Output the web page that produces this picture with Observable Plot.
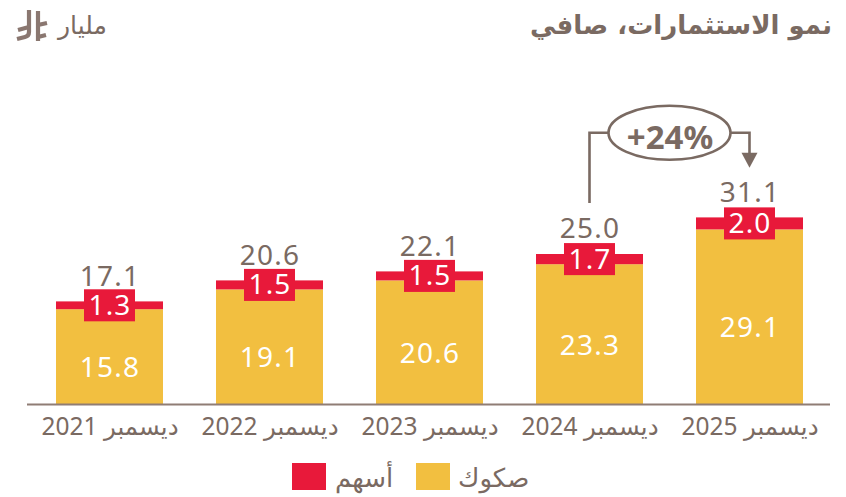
<!DOCTYPE html>
<html><head><meta charset="utf-8">
<script src="https://cdn.jsdelivr.net/npm/d3@7"></script>
<script src="https://cdn.jsdelivr.net/npm/@observablehq/plot@0.6"></script>
<style>
html,body{margin:0;padding:0;background:#fff;width:846px;height:497px;overflow:hidden}
#wrap{position:relative;width:846px;height:497px;font-family:"Noto Sans","DejaVu Sans",sans-serif;color:#7a6a62}
#chart{position:absolute;left:0;top:50px}
#title{position:absolute;right:14px;top:7px;font-size:26px;font-weight:700;direction:rtl;line-height:36px;font-family:"DejaVu Sans",sans-serif}
#unit{position:absolute;left:58px;top:8px;font-size:25px;line-height:36px;font-family:"DejaVu Sans",sans-serif}
#sym{position:absolute;left:0;top:0}
.lg{position:absolute;font-size:26px;line-height:30px;font-family:"DejaVu Sans",sans-serif;white-space:nowrap}
.sw{position:absolute;width:34px;height:27px;top:463px}
</style></head><body>
<div id="wrap">
<div id="title">نمو الاستثمارات، صافي</div>
<svg id="sym" width="60" height="50"><path fill="none" stroke="#8a7770" stroke-width="4.2" d="M29 10V32Q29 36 25 37L17 39M18 30L29 27M38 11V41M38 25L47 23M38 37L46 35"/></svg>
<div id="unit">مليار</div>
<div id="chart"></div>
<i class="sw" style="left:292px;background:#e8193a"></i><span class="lg" style="left:335px;top:463px">أسهم</span>
<i class="sw" style="left:416px;background:#f2bf40"></i><span class="lg" style="left:458px;top:463px">صكوك</span>
</div>
<script>
const periods=["ديسمبر 2021","ديسمبر 2022","ديسمبر 2023","ديسمبر 2024","ديسمبر 2025"];
const sukuk=[15.8,19.1,20.6,23.3,29.1];
const shares=[1.3,1.5,1.5,1.7,2.0];
const totals=[17.1,20.6,22.1,25.0,31.1];
const growth="+24%";
const gold="#f2bf40",red="#e8193a",brown="#7a6a62";
const rows=periods.map((p,i)=>({p,s:sukuk[i],e:shares[i],t:totals[i]}));
const growthMark=(index,{x,y})=>{
  const x1=x(periods[3])+x.bandwidth()/2,x2=x(periods[4])+x.bandwidth()/2;
  const cx=(x1+x2)/2,cy=y(45.2),rx=61,ry=27;
  const g=d3.create("svg:g").attr("fill","none").attr("stroke",brown).attr("stroke-width",2.6);
  g.append("path").attr("d",`M${x1},${y(33.5)}V${cy}H${cx-rx}`);
  g.append("path").attr("d",`M${cx+rx},${cy}H${x2}V${cy+21}`);
  g.append("ellipse").attr("cx",cx).attr("cy",cy).attr("rx",rx).attr("ry",ry);
  g.append("path").attr("fill",brown).attr("stroke","none").attr("d",`M${x2-8},${cy+20}H${x2+8}L${x2},${cy+35}Z`);
  return g.node();
};
const num={fontSize:28};
const svgPlot=Plot.plot({
  width:846,height:400,marginLeft:27,marginRight:16,marginTop:0,marginBottom:46,
  x:{type:"band",domain:periods,range:[29.5,829.5],paddingInner:.33,paddingOuter:.165,label:null},
  y:{domain:[0,59],range:[354,0],axis:null},
  style:{fontFamily:'"Noto Sans","DejaVu Sans",sans-serif',color:brown,background:"transparent"},
  marks:[
    Plot.axisX({fontSize:24.5,tickSize:0,tickPadding:13,label:null,color:brown}),
    Plot.barY(rows,{x:"p",y1:0,y2:"s",fill:gold}),
    Plot.barY(rows,{x:"p",y1:"s",y2:"t",fill:red}),
    Plot.ruleY([0],{stroke:"#8f7d75",strokeWidth:2}),
    Plot.barY(rows,{x:"p",y1:d=>d.s+d.e/2-2.67,y2:d=>d.s+d.e/2+2.67,fill:red,insetLeft:28,insetRight:28}),
    Plot.text(rows,{x:"p",y:d=>d.s/2,text:d=>d.s.toFixed(1),dy:11,fill:"#fff",...num}),
    Plot.text(rows,{x:"p",y:d=>d.s+d.e/2,text:d=>d.e.toFixed(1),dy:0,fill:"#fff",...num}),
    Plot.text(rows,{x:"p",y:"t",text:d=>d.t.toFixed(1),dy:-25,fill:brown,...num}),
    growthMark,
    Plot.text([growth],{x:()=>periods[3],y:()=>45.2,text:d=>d,dx:80,dy:5,fill:brown,fontSize:33,fontWeight:700})
  ]
});
svgPlot.querySelectorAll("text").forEach(t=>{ if(/^[\d.]+$/.test(t.textContent)) t.style.letterSpacing="1.2px"; });
document.getElementById("chart").append(svgPlot);
</script>
</body></html>
